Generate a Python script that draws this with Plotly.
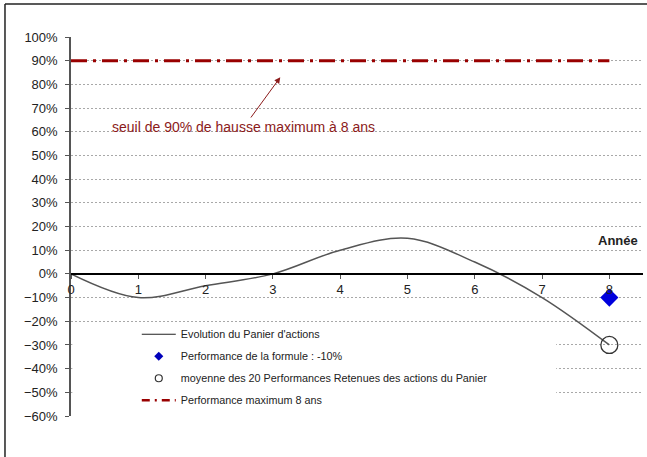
import plotly.graph_objects as go

# ---- data ----
years = [0, 1, 2, 3, 4, 5, 6, 7, 8]
panier = [0.0, -0.10, -0.05, 0.0, 0.10, 0.15, 0.05, -0.10, -0.30]
formule_x = [8]
formule_y = [-0.10]
moyenne_x = [8]
moyenne_y = [-0.30]
max_x = [0, 8]
max_y = [0.90, 0.90]
y_ticks = [-0.6, -0.5, -0.4, -0.3, -0.2, -0.1, 0.0, 0.1, 0.2, 0.3, 0.4, 0.5, 0.6, 0.7, 0.8, 0.9, 1.0]
x_ticks = [0, 1, 2, 3, 4, 5, 6, 7, 8]

names = ["Evolution du Panier d'actions",
         "Performance de la formule : -10%",
         "moyenne des 20 Performances Retenues des actions du Panier",
         "Performance maximum 8 ans"]

RED = "#990000"
FONT = "Liberation Sans, Arial, sans-serif"
DASHDOT = "16px,6px,3px,6px"

fig = go.Figure()

# actual marks (no legend)
fig.add_trace(go.Scatter(x=max_x, y=max_y, mode="lines", showlegend=False,
                         line=dict(color=RED, width=3, dash=DASHDOT), hoverinfo="skip"))
fig.add_trace(go.Scatter(x=years, y=panier, mode="lines", showlegend=False,
                         line=dict(color="#555555", width=1.5, shape="spline", smoothing=1)))
fig.add_trace(go.Scatter(x=formule_x, y=formule_y, mode="markers", showlegend=False,
                         marker=dict(symbol="diamond", size=14, color="#0000dd")))
fig.add_trace(go.Scatter(x=moyenne_x, y=moyenne_y, mode="markers", showlegend=False,
                         marker=dict(symbol="circle-open", size=17, color="#333333",
                                     line=dict(width=1.3, color="#333333"))))

# legend entries
fig.add_trace(go.Scatter(x=[None], y=[None], mode="lines", name=names[0], legendgroup="a",
                         line=dict(color="#222222", width=1.2)))
fig.add_trace(go.Scatter(x=[None], y=[None], mode="markers", name=names[1], legendgroup="b",
                         marker=dict(symbol="diamond", size=7, color="#0000bb")))
fig.add_trace(go.Scatter(x=[None], y=[None], mode="markers", name=names[2], legendgroup="c",
                         marker=dict(symbol="circle-open", size=7, color="#333333",
                                     line=dict(width=1.2))))
fig.add_trace(go.Scatter(x=[None], y=[None], mode="lines", name=names[3], legendgroup="d",
                         line=dict(color=RED, width=2.5, dash="8px,5px,2px,5px")))

fig.update_layout(
    width=647, height=457,
    margin=dict(l=71, r=4, t=37, b=41),
    paper_bgcolor="white", plot_bgcolor="white",
    font=dict(family=FONT, size=12, color="#222222"),
    showlegend=True,
    legend=dict(x=0.115, y=0.254, xanchor="left", yanchor="top",
                bgcolor="rgba(0,0,0,0)", font=dict(size=10.8, color="#222222", family=FONT),
                tracegroupgap=3, itemwidth=34, traceorder="grouped"),
    xaxis=dict(range=[0, 8.5], tickvals=x_ticks, ticktext=[str(v) for v in x_ticks],
               anchor="free", position=0.375, showline=True, linecolor="black", linewidth=1.5,
               ticks="outside", ticklen=4, tickcolor="#555555", showgrid=False, zeroline=False,
               tickfont=dict(size=13, color="#222222")),
    yaxis=dict(range=[-0.6, 1.0], tickvals=y_ticks, tickformat=".0%",
               showline=True, linecolor="#555555", linewidth=1.5, ticks="outside", ticklen=4,
               tickcolor="#555555", showgrid=True, gridcolor="#a8a8a8", griddash="2px,2px",
               gridwidth=1, zeroline=False, ticklabelstandoff=5,
               tickfont=dict(size=13, color="#222222")),
    shapes=[
        # legend background (covers gridlines)
        dict(type="rect", xref="x", yref="y", x0=0.02, x1=7.21, y0=-0.585, y1=-0.215,
             fillcolor="white", line=dict(width=0), layer="between"),
        # outer frame
        dict(type="line", xref="paper", yref="paper", x0=-0.1154, x1=1.01, y0=1.087, y1=1.087,
             line=dict(color="#222222", width=1.5)),
        dict(type="line", xref="paper", yref="paper", x0=-0.1154, x1=-0.1154, y0=1.087, y1=-0.2,
             line=dict(color="#222222", width=1.5)),
    ],
    annotations=[
        dict(x=3.11, y=0.83, xref="x", yref="y", ax=2.57, ay=0.62, axref="x", ayref="y",
             text="seuil de 90% de hausse maximum à 8 ans", showarrow=True,
             arrowhead=2, arrowsize=1.2, arrowwidth=1, arrowcolor="#8b1a1a",
             font=dict(size=14, color="#8b1a1a", family=FONT)),
        dict(x=0.995, y=0.139, xref="paper", yref="y", xanchor="right", yanchor="middle",
             text="<b>Année</b>", showarrow=False, font=dict(size=13, color="#222222", family=FONT)),
    ],
)

fig.write_html("out.html", config={"displayModeBar": False},
               post_script="document.body.style.margin='0';")
